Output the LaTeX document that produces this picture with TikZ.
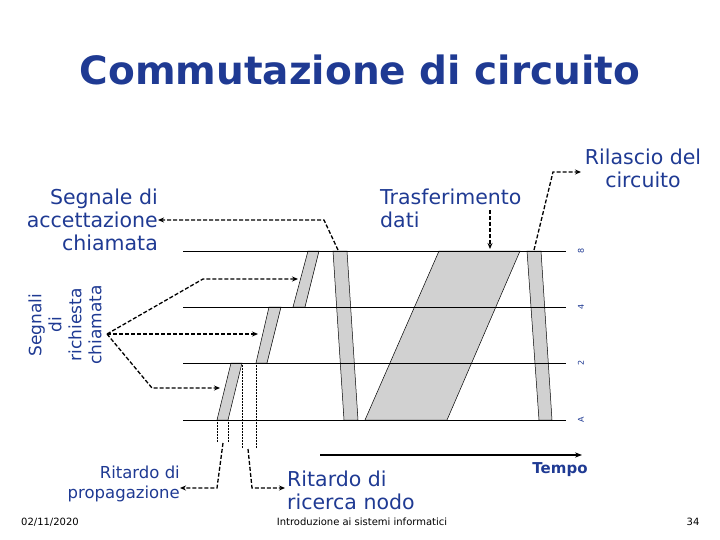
\documentclass[tikz,border=0pt]{standalone}
\usepackage{fontspec}
\setmainfont{DejaVu Sans}
\usetikzlibrary{arrows.meta}
\definecolor{tblue}{HTML}{1F3A93}
\begin{document}
\begin{tikzpicture}[x=1pt,y=-1pt,
  lbl/.style={text=tblue,font=\fontsize{20.5}{23}\selectfont,inner sep=0pt,align=center},
  band/.style={draw=black,line width=0.5pt,fill=black!18},
  darr/.style={line width=1.3pt,dash pattern=on 4pt off 2pt,-{Stealth[length=6pt,width=5pt]}},
  dotl/.style={densely dotted,line width=0.5pt},
  tick/.style={rotate=90,font=\fontsize{8}{8}\selectfont,text=tblue,inner sep=0pt}]
\useasboundingbox (0,0) rectangle (720,540);
\node[text=tblue,font=\bfseries\fontsize{39}{40}\selectfont] (title) at (360,70) {Commutazione di circuito};
% bands
\fill[band] (217,420) -- (228,420) -- (242,363) -- (231,363) -- cycle;
\fill[band] (256,363) -- (267,363) -- (281,307) -- (269,307) -- cycle;
\fill[band] (293,307) -- (305,307) -- (319,251) -- (308,251) -- cycle;
\fill[band] (333,251) -- (347,251) -- (358,420) -- (344,420) -- cycle;
\fill[band] (365,420) -- (447,420) -- (520,251) -- (439,251) -- cycle;
\fill[band] (527,251) -- (541,251) -- (552,420) -- (539,420) -- cycle;
% lines
\foreach \y/\t in {251/8,307/4,363/2,420/A}{
  \draw[line width=0.7pt] (183,\y) -- (566,\y);
  \node[tick] at (581,\y) {\t};
}
% dotted verticals
\draw[dotl] (217,420) -- (217,442) (228,420) -- (228,442);
\draw[dotl] (242,363) -- (242,448) (256,363) -- (256,448);
% labels
\node[lbl,align=right,anchor=east] (acc) at (158,220) {Segnale di\\accettazione\\chiamata};
\node[lbl,rotate=90,font=\fontsize{17}{20}\selectfont] (rich) at (65,325) {Segnali\\di\\richiesta\\chiamata};
\node[lbl,align=left,anchor=west] (tras) at (380,208) {Trasferimento\\dati};
\node[lbl] (ril) at (643,168) {Rilascio del\\circuito};
\node[lbl,align=right,anchor=east,font=\fontsize{16.5}{20}\selectfont] (prop) at (180,484) {Ritardo di\\propagazione};
\node[lbl,align=left,anchor=west] (ric) at (287,490) {Ritardo di\\ricerca nodo};
\node[text=tblue,font=\bfseries\fontsize{15}{16}\selectfont] (tempo) at (560,470) {Tempo};
% arrows
\coordinate (rs) at (107,334);
\draw[darr] (rs) -- (203,279) -- (298,279);
\draw[darr] (rs) -- (258,334);
\draw[darr] (rs) -- (152,388) -- (220,388);
\draw[darr] (338,250) -- (324,220) -- (acc.east |- 0,220);
\draw[darr] (490,210) -- (490,249);
\draw[darr] (534,250) -- (553,172) -- (581,172);
\draw[darr] (223,443) -- (217,488) -- (180,488);
\draw[darr] (248,449) -- (252,488) -- (285,488);
\draw[line width=1.4pt,-{Stealth[length=7pt]}] (320,455) -- (582,455);
% footer
\node[font=\fontsize{10}{10}\selectfont] (date) at (50,522) {02/11/2020};
\node[font=\fontsize{10}{10}\selectfont] (foot) at (362,522) {Introduzione ai sistemi informatici};
\node[font=\fontsize{10}{10}\selectfont] (pg) at (693,522) {34};
\end{tikzpicture}
\end{document}
